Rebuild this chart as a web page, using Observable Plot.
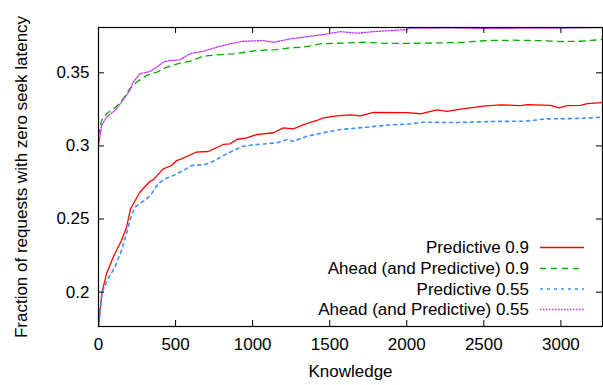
<!DOCTYPE html>
<html>
<head>
<meta charset="utf-8">
<script src="https://cdn.jsdelivr.net/npm/d3@7"></script>
<script src="https://cdn.jsdelivr.net/npm/@observablehq/plot@0.6"></script>
<style>
  html, body { margin: 0; padding: 0; background: #fff; }
  #wrap { position: relative; width: 603px; height: 385px; font-family: "Liberation Sans", Arial, Helvetica, sans-serif; }
  #legend { position: absolute; left: 0; top: 0; width: 603px; height: 385px; pointer-events: none; }
</style>
</head>
<body>
<div id="wrap"></div>
<script>
// ---- data ----
const seriesNames = ["Predictive 0.9", "Ahead (and Predictive) 0.9", "Predictive 0.55", "Ahead (and Predictive) 0.55"];

const pred09X = [0, 23, 52, 95, 149, 182, 208, 268, 333, 355, 420, 474, 507, 539, 632, 712, 810, 853, 897, 962, 1027, 1135, 1200, 1265, 1330, 1416, 1460, 1546, 1633, 1698, 1784, 2001, 2088, 2196, 2261, 2348, 2499, 2608, 2738, 2781, 2933, 2987, 3041, 3127, 3171, 3270];
const pred09Y = [0.177, 0.200, 0.2125, 0.2239, 0.2353, 0.2444, 0.257, 0.2683, 0.2757, 0.2768, 0.2843, 0.2866, 0.290, 0.2912, 0.2957, 0.2962, 0.301, 0.3014, 0.3044, 0.3055, 0.3078, 0.309, 0.3124, 0.3117, 0.3146, 0.3174, 0.3192, 0.3206, 0.3213, 0.3206, 0.3230, 0.3228, 0.3220, 0.3247, 0.3237, 0.3251, 0.3272, 0.3281, 0.3276, 0.3283, 0.3278, 0.3261, 0.3276, 0.3278, 0.329, 0.3297];

const ahead09X = [0, 20, 52, 117, 160, 203, 247, 312, 377, 442, 528, 593, 680, 767, 875, 940, 1027, 1157, 1243, 1330, 1438, 1546, 1719, 1871, 2023, 2218, 2369, 2521, 2694, 2911, 2998, 3127, 3270];
const ahead09Y = [0.307, 0.3174, 0.3220, 0.3270, 0.3322, 0.3391, 0.3436, 0.3482, 0.3504, 0.3538, 0.3566, 0.3579, 0.3614, 0.3623, 0.3630, 0.3639, 0.3653, 0.3659, 0.3671, 0.3675, 0.3698, 0.3702, 0.3709, 0.3702, 0.3702, 0.3705, 0.3709, 0.3721, 0.3723, 0.3719, 0.3714, 0.3716, 0.3728];

const pred055X = [0, 23, 62, 106, 149, 182, 203, 236, 312, 344, 387, 431, 485, 550, 604, 691, 745, 810, 875, 940, 1027, 1157, 1222, 1265, 1351, 1460, 1568, 1741, 1871, 2023, 2109, 2326, 2543, 2759, 2911, 3084, 3270];
const pred055Y = [0.177, 0.200, 0.2091, 0.2170, 0.2284, 0.2399, 0.2489, 0.2581, 0.2638, 0.2672, 0.2741, 0.2775, 0.2798, 0.2832, 0.2866, 0.2873, 0.2895, 0.2934, 0.2969, 0.2998, 0.3010, 0.3021, 0.3044, 0.3032, 0.3066, 0.3090, 0.3112, 0.3128, 0.3142, 0.3151, 0.3162, 0.316, 0.3167, 0.3169, 0.3185, 0.3187, 0.3196];

const ahead055X = [0, 20, 52, 106, 149, 203, 225, 268, 333, 377, 420, 463, 528, 593, 680, 767, 853, 940, 1070, 1135, 1243, 1330, 1460, 1568, 1676, 1784, 1893, 2001, 2023, 2300, 2500, 2700, 2900, 3100, 3270];
const ahead055Y = [0.300, 0.3140, 0.3196, 0.3242, 0.3299, 0.3379, 0.3436, 0.3493, 0.3509, 0.3538, 0.3573, 0.3584, 0.3589, 0.3630, 0.3648, 0.3675, 0.3698, 0.3716, 0.3721, 0.3709, 0.3732, 0.3744, 0.3762, 0.3782, 0.3771, 0.3782, 0.3789, 0.3796, 0.3806, 0.3807, 0.3803, 0.3805, 0.3806, 0.3807, 0.3810];

const xTicks = [0, 500, 1000, 1500, 2000, 2500, 3000];
const xTickLabels = ["0", "500", "1000", "1500", "2000", "2500", "3000"];
const yTicks = [0.2, 0.25, 0.3, 0.35];
const yTickLabels = ["0.2", "0.25", "0.3", "0.35"];

// ---- styles ----
const styles = [
  {color: "#ff0000", dash: null, width: 1.3},
  {color: "#00b000", dash: "6,5", width: 1.3},
  {color: "#3a90ff", dash: "3,4", width: 1.6},
  {color: "#c030ff", dash: "1.5,1.5", width: 1.3}
];

const rows = (xs, ys) => xs.map((x, i) => ({x, y: ys[i]}));
const seriesData = [rows(pred09X, pred09Y), rows(ahead09X, ahead09Y), rows(pred055X, pred055Y), rows(ahead055X, ahead055Y)];

const W = 603, H = 385;
const mL = 98, mR = 1, mT = 27, mB = 59;
const plotH = H - mT - mB, plotW = W - mL - mR;
const tickLen = 6;
const font = "Liberation Sans, Arial, Helvetica, sans-serif";

const lineMarks = seriesData.map((d, i) => Plot.line(d, {
  x: "x", y: "y", stroke: styles[i].color, strokeWidth: styles[i].width,
  strokeDasharray: styles[i].dash, clip: true
}));

const chart = Plot.plot({
  width: W, height: H,
  marginLeft: mL, marginRight: mR, marginTop: mT, marginBottom: mB,
  style: {fontFamily: font, fontSize: "17px", color: "#000", background: "#fff"},
  x: {domain: [0, 3270]},
  y: {domain: [0.1765, 0.381]},
  marks: [
    ...lineMarks,
    // inward ticks, all four sides
    Plot.ruleX(xTicks, {x: d => d, insetTop: plotH - tickLen, stroke: "#000"}),
    Plot.ruleX(xTicks, {x: d => d, insetBottom: plotH - tickLen, stroke: "#000"}),
    Plot.ruleY(yTicks, {y: d => d, insetRight: plotW - tickLen, stroke: "#000"}),
    Plot.ruleY(yTicks, {y: d => d, insetLeft: plotW - tickLen, stroke: "#000"}),
    Plot.axisX(xTicks, {anchor: "bottom", tickSize: 0, tickPadding: 11, tickFormat: (d, i) => xTickLabels[i], label: "Knowledge", labelAnchor: "center", labelOffset: 50, labelArrow: "none", fontSize: 17}),
    Plot.axisY(yTicks, {anchor: "left", tickSize: 0, tickPadding: 9, tickFormat: (d, i) => yTickLabels[i], label: "Fraction of requests with zero seek latency", labelAnchor: "center", labelOffset: 84, labelArrow: "none", fontSize: 17}),
    Plot.frame({stroke: "#000", strokeWidth: 1.2})
  ]
});

const wrap = document.getElementById("wrap");
wrap.appendChild(chart);

// ---- legend (inside plot, bottom right) ----
const ns = "http://www.w3.org/2000/svg";
const leg = document.createElementNS(ns, "svg");
leg.setAttribute("id", "legend");
leg.setAttribute("width", W);
leg.setAttribute("height", H);
const legTextRight = 529, legLineX1 = 540, legLineX2 = 584;
const legRowY = [247.5, 268.5, 289, 309.5];
seriesNames.forEach((name, i) => {
  const t = document.createElementNS(ns, "text");
  t.setAttribute("x", legTextRight);
  t.setAttribute("y", legRowY[i]);
  t.setAttribute("text-anchor", "end");
  t.setAttribute("dominant-baseline", "central");
  t.setAttribute("font-family", font);
  t.setAttribute("font-size", "17");
  t.setAttribute("fill", "#000");
  t.textContent = name;
  leg.appendChild(t);
  const l = document.createElementNS(ns, "line");
  l.setAttribute("x1", legLineX1);
  l.setAttribute("x2", legLineX2);
  l.setAttribute("y1", legRowY[i]);
  l.setAttribute("y2", legRowY[i]);
  l.setAttribute("stroke", styles[i].color);
  l.setAttribute("stroke-width", styles[i].width);
  if (styles[i].dash) l.setAttribute("stroke-dasharray", styles[i].dash);
  leg.appendChild(l);
});
wrap.appendChild(leg);
</script>
</body>
</html>
